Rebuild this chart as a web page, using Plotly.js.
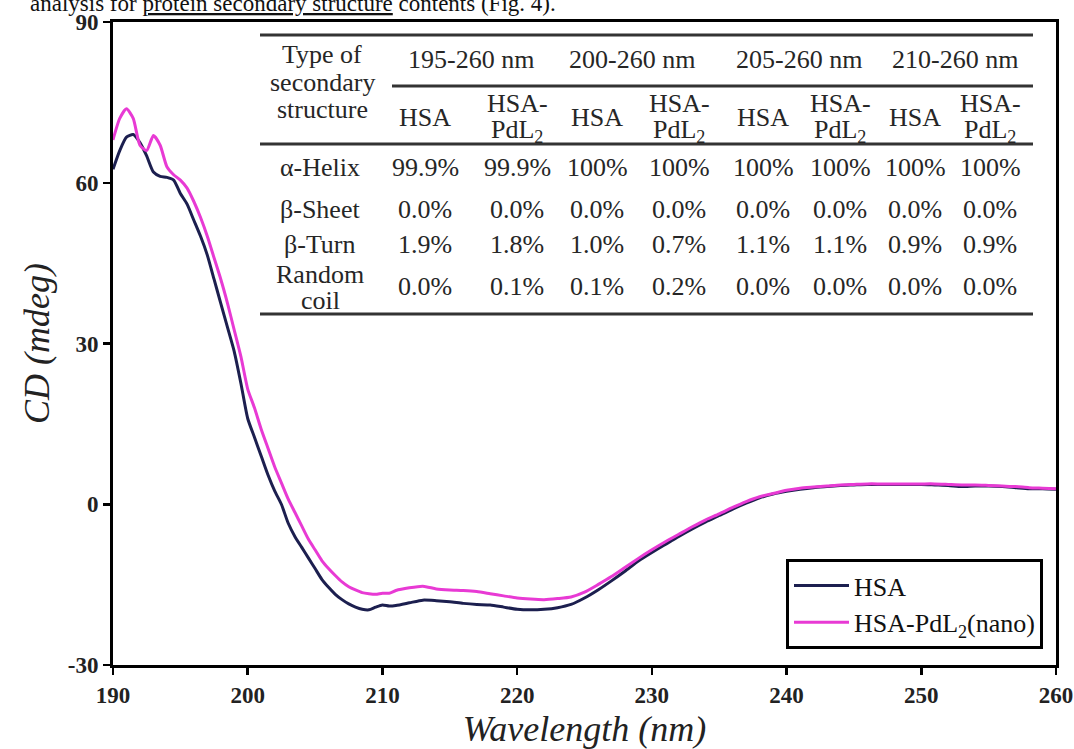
<!DOCTYPE html>
<html>
<head>
<meta charset="utf-8">
<script src="https://cdn.plot.ly/plotly-3.0.1.min.js"></script>
<style>html,body{margin:0;padding:0;background:#fff;}#chart{width:1074px;height:749px;}</style>
</head>
<body>
<div id="chart"></div>
<script>
// ---------- DATA ----------
const wavelengthHSA = [190,190.5,191,191.5,192,192.5,193,193.5,194,194.5,195,195.5,196,196.5,197,197.5,198,198.5,199,199.5,200,200.5,201,201.5,202,202.5,203,203.5,204,204.5,205,205.5,206,206.5,207,207.5,208,208.5,209,209.5,210,210.5,211,212,213,214,215,216,217,218,219,220,221,222,223,224,225,226,227,228,229,230,231,232,233,234,235,236,237,238,239,240,241,242,243,244,245,246,247,248,249,250,251,252,253,254,255,256,257,258,259,260];
const cdHSA = [62.5,66,68.5,69,67.5,65,62,61.2,61,60.5,58,56,53,50,46.5,42,37.5,33,28.5,22.5,16,12.5,9,5.5,2.5,0,-3.5,-6,-8,-10,-12,-14,-15.5,-16.8,-17.8,-18.6,-19.2,-19.6,-19.7,-19.2,-18.8,-19,-18.9,-18.4,-17.9,-18,-18.2,-18.5,-18.7,-18.8,-19.2,-19.6,-19.7,-19.6,-19.3,-18.7,-17.5,-16,-14.3,-12.5,-10.6,-9,-7.5,-6,-4.6,-3.3,-2.1,-0.9,0.2,1.2,1.9,2.4,2.8,3.1,3.3,3.5,3.6,3.7,3.7,3.7,3.7,3.7,3.6,3.5,3.3,3.4,3.4,3.3,3.1,2.9,2.9,2.8];
const wavelengthPd = wavelengthHSA;
const cdPd = [68,72,73.8,72,67,66,68.8,67,63,61.5,60.5,59,56.5,53.5,50,46,42,37.5,32.5,27.5,21.5,18,14,10.5,7,4,1,-1.5,-4,-6.5,-8.5,-10.5,-12,-13.3,-14.5,-15.4,-16,-16.5,-16.7,-16.8,-16.6,-16.6,-16.1,-15.6,-15.3,-15.8,-16,-16.1,-16.3,-16.7,-17.1,-17.5,-17.7,-17.8,-17.6,-17.3,-16.4,-15,-13.5,-11.8,-10.1,-8.5,-7,-5.6,-4.2,-2.9,-1.8,-0.6,0.5,1.4,2,2.6,3,3.2,3.4,3.6,3.7,3.8,3.8,3.8,3.8,3.8,3.8,3.7,3.6,3.6,3.5,3.4,3.3,3.1,3,2.9];
const seriesNames = ['HSA', 'HSA-PdL<sub>2</sub>(nano)'];
const yTicks = [-30, 0, 30, 60, 90];
const yTickLabels = ['-30', '0', '30', '60', '90'];

// table content
const rangeHeaders = ['195-260 nm', '200-260 nm', '205-260 nm', '210-260 nm'];
const sampleHeaders = ['HSA', 'HSA-PdL2', 'HSA', 'HSA-PdL2', 'HSA', 'HSA-PdL2', 'HSA', 'HSA-PdL2'];
const structureTypes = ['α-Helix', 'β-Sheet', 'β-Turn', 'Random coil'];
const helixRow  = ['99.9%','99.9%','100%','100%','100%','100%','100%','100%'];
const sheetRow  = ['0.0%','0.0%','0.0%','0.0%','0.0%','0.0%','0.0%','0.0%'];
const turnRow   = ['1.9%','1.8%','1.0%','0.7%','1.1%','1.1%','0.9%','0.9%'];
const randomRow = ['0.0%','0.1%','0.1%','0.2%','0.0%','0.0%','0.0%','0.0%'];
const tableRows = [helixRow, sheetRow, turnRow, randomRow];

// ---------- LAYOUT ----------
const L = 113, T = 22, W = 943, H = 643;
const px = p => (p - L) / W;
const py = p => (T + H - p) / H;
const serif = 'Liberation Serif, Times New Roman, serif';
const tcol = '#262626';
const tfont = {family: serif, size: 26, color: tcol};

const annotations = [];
function addText(text, x, y, size) {
  annotations.push({xref:'paper', yref:'paper', x: px(x), y: py(y), xanchor:'center', yanchor:'middle',
    text: text, showarrow:false, font: Object.assign({}, tfont, size ? {size: size} : {})});
}
// header
addText('Type of', 322, 55);
addText('secondary', 322, 82);
addText('structure', 322, 109);
const colX = [425, 517, 597, 679, 763, 840, 915, 990];
const rangeX = [471, 632, 799, 955];
rangeHeaders.forEach((t, i) => addText(t, rangeX[i], 60));
sampleHeaders.forEach((t, i) => {
  if (t === 'HSA') addText('HSA', colX[i], 118);
  else { addText('HSA-', colX[i], 104); addText('PdL<sub>2</sub>', colX[i], 131); }
});
const rowY = [168, 209, 244, 287];
structureTypes.forEach((t, r) => {
  if (t === 'Random coil') { addText('Random', 320, 274); addText('coil', 320, 300); }
  else addText(t, 320, rowY[r]);
  tableRows[r].forEach((v, c) => addText(v, colX[c], rowY[r]));
});
// cropped line of the surrounding page text at the very top
annotations.push({xref:'paper', yref:'paper', x: px(28), y: py(3), xanchor:'left', yanchor:'middle', showarrow:false,
  text: 'analysis for <u>protein secondary structure</u> contents (Fig. 4).',
  font: {family: serif, size: 23, color: '#111'}});

const rule = (x0, x1, y) => ({type:'line', xref:'paper', yref:'paper', x0: px(x0), x1: px(x1), y0: py(y), y1: py(y),
  line: {color:'#333', width: 3}});
const shapes = [rule(260, 1033, 35), rule(392, 1033, 86), rule(260, 1033, 144), rule(260, 1033, 314)];

const traces = [
  {x: wavelengthHSA, y: cdHSA, name: seriesNames[0], mode:'lines', line:{color:'#1c1f4f', width:3, shape:'spline', smoothing:0.6}},
  {x: wavelengthPd, y: cdPd, name: seriesNames[1], mode:'lines', line:{color:'#e83ad4', width:3, shape:'spline', smoothing:0.6}}
];

const layout = {
  width: 1074, height: 749,
  margin: {l: L, r: 1074 - L - W, t: T, b: 749 - T - H},
  paper_bgcolor: '#fff', plot_bgcolor: '#fff',
  showlegend: true,
  legend: {x: px(1043), y: py(649), xanchor:'right', yanchor:'bottom', bgcolor:'#fff',
    bordercolor:'#000', borderwidth: 3, itemwidth: 55, font:{family: serif, size: 26, color:'#111'}, tracegroupgap: 0},
  xaxis: {range:[190, 260], dtick: 10, tick0: 190, showgrid:false, zeroline:false,
    showline:true, linecolor:'#000', linewidth:3, mirror:true, ticks:'outside', ticklen:7, tickwidth:2.5, tickcolor:'#000',
    tickfont:{family: serif, size: 23, color:'#222', weight:'bold'},
    title:{text:'Wavelength (nm)', font:{family: serif, size: 36, color:'#222', style:'italic'}, standoff: 10}},
  yaxis: {range:[-30, 90], tickvals: yTicks, ticktext: yTickLabels, showgrid:false, zeroline:false,
    showline:true, linecolor:'#000', linewidth:3, mirror:true, ticks:'outside', ticklen:7, tickwidth:2.5, tickcolor:'#000',
    tickfont:{family: serif, size: 23, color:'#222', weight:'bold'},
    title:{text:'CD (mdeg)', font:{family: serif, size: 36, color:'#222', style:'italic'}, standoff: 8}},
  annotations: annotations,
  shapes: shapes
};

Plotly.newPlot('chart', traces, layout, {displayModeBar:false, staticPlot:true});
</script>
</body>
</html>
